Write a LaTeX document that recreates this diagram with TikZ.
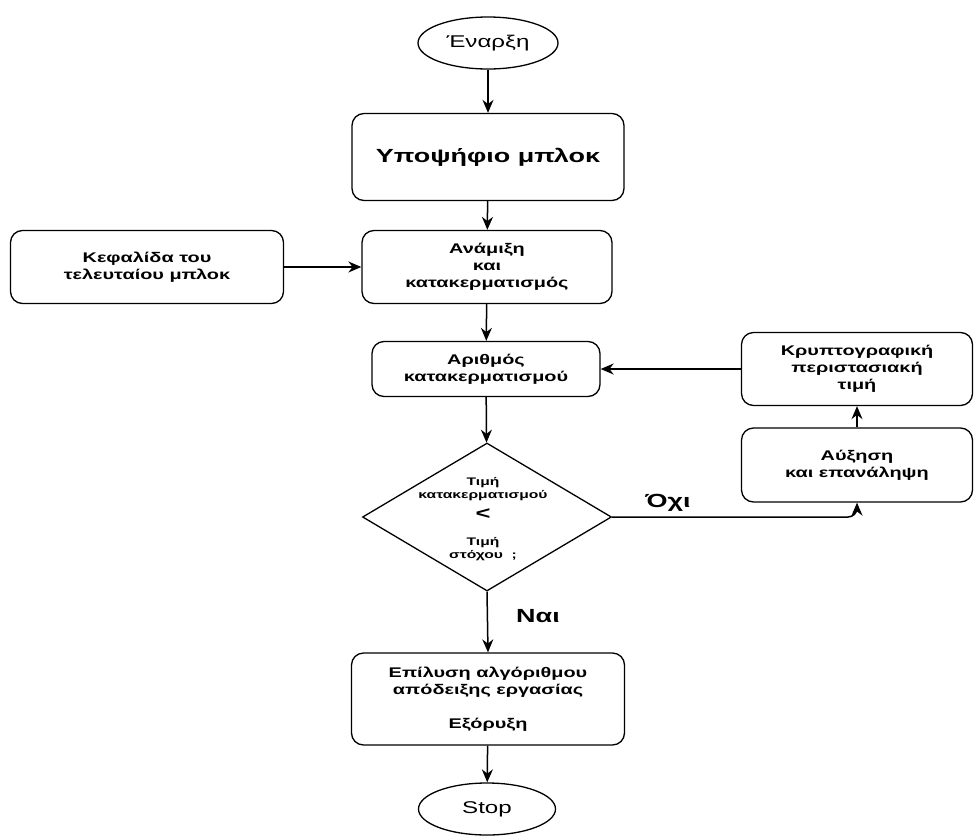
\documentclass[tikz,border=0pt]{standalone}
\usepackage{fontspec}
\setmainfont[FakeStretch=1.42]{Liberation Sans}
\usetikzlibrary{shapes.geometric,arrows.meta}
\begin{document}
\begin{tikzpicture}[x=1pt,y=-1pt,
  box/.style={draw, line width=1.3pt, rounded corners=12pt, inner sep=0pt, align=center, font=\bfseries\fontsize{14}{17}\selectfont},
  term/.style={draw, ellipse, line width=1.3pt, inner sep=0pt, font=\fontsize{17}{19}\selectfont},
  arr/.style={-{Stealth[length=13pt,width=11pt]}, line width=1.5pt},
  lbl/.style={font=\bfseries\fontsize{19}{21}\selectfont}]
\useasboundingbox (0,0) rectangle (974,838);
\node[term, minimum width=140pt, minimum height=52pt] (start) at (488,43) {Έναρξη};
\node[box, minimum width=272pt, minimum height=87pt, font=\bfseries\fontsize{19}{22}\selectfont] (cand) at (488,157) {Υποψήφιο μπλοκ};
\node[box, minimum width=273pt, minimum height=73pt] (head) at (147,267) {Κεφαλίδα του\\τελευταίου μπλοκ};
\node[box, minimum width=250pt, minimum height=73pt] (mix) at (487,267) {Ανάμιξη\\και\\κατακερματισμός};
\node[box, minimum width=228pt, minimum height=55pt] (hash) at (486,369) {Αριθμός\\κατακερματισμού};
\node[box, minimum width=231pt, minimum height=73pt] (crypto) at (857,369) {Κρυπτογραφική\\περιστασιακή\\τιμή};
\node[box, minimum width=231pt, minimum height=74pt] (inc) at (857,465) {Αύξηση\\και επανάληψη};
\node[draw, diamond, line width=1.3pt, inner sep=0pt, minimum width=249pt, minimum height=148pt] (dia) at (487,517) {};
\node[align=center, font=\bfseries\fontsize{11}{13}\selectfont] (dtext) at (483,519) {Τιμή\\κατακερματισμού\\[7pt]{\fontsize{18}{18}\selectfont <}\\[13pt]Τιμή\\στόχου\ \ ;};
\node[box, minimum width=273pt, minimum height=92pt] (solve) at (488,699) {Επίλυση αλγόριθμου\\απόδειξης εργασίας\\[17pt]Εξόρυξη};
\node[term, minimum width=137pt, minimum height=52pt] (stop) at (487,809) {Stop};
\node[lbl] (no) at (668,503) {Όχι};
\node[lbl] (yes) at (538,616) {Ναι};
\draw[arr] (start) -- (cand);
\draw[arr] (cand) -- (mix);
\draw[arr] (head) -- (mix);
\draw[arr] (mix) -- (hash);
\draw[arr] (hash) -- (dia);
\draw[arr] (crypto) -- (hash);
\draw[arr] (inc) -- (crypto);
\draw[arr, rounded corners=9pt] (dia.east) -| (inc.south);
\draw[arr] (dia.south) -- (solve.north);
\draw[arr] (solve) -- (stop);
\end{tikzpicture}
\end{document}
